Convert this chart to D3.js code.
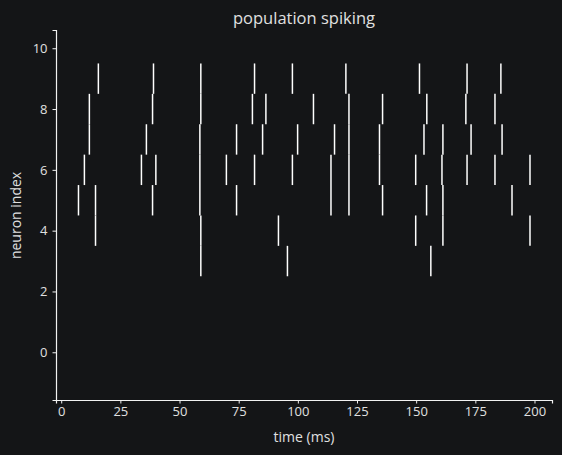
<!DOCTYPE html>
<html>
<head>
<meta charset="utf-8">
<script src="https://cdn.jsdelivr.net/npm/d3@7"></script>
<style>
  html, body { margin: 0; padding: 0; background: #141517; }
  svg { display: block; font-family: "Open Sans", "Noto Sans", sans-serif; }
</style>
</head>
<body>
<div id="chart"></div>
<script>
// spike times (ms) for each neuron, index = neuron number
var neurons = [0, 1, 2, 3, 4, 5, 6, 7, 8, 9];
var spikes0 = [];
var spikes1 = [];
var spikes2 = [];
var spikes3 = [59.0, 95.6, 156.2];
var spikes4 = [14.5, 59.0, 91.8, 149.8, 161.3, 198.1];
var spikes5 = [7.3, 14.5, 38.6, 58.6, 74.1, 114.0, 121.6, 135.8, 154.4, 161.3, 190.5];
var spikes6 = [9.8, 33.9, 40.0, 58.6, 69.8, 81.7, 97.7, 114.0, 121.6, 134.5, 149.8, 160.9, 171.5, 183.3, 198.1];
var spikes7 = [11.9, 36.0, 58.6, 74.1, 85.1, 99.9, 115.5, 121.6, 134.5, 153.3, 161.3, 173.2, 186.3];
var spikes8 = [11.9, 38.6, 59.0, 80.8, 86.5, 106.6, 121.6, 135.8, 154.5, 171.0, 183.3];
var spikes9 = [15.7, 39.0, 59.0, 81.7, 97.7, 120.3, 151.4, 171.5, 185.8];
var spikeTrains = [spikes0, spikes1, spikes2, spikes3, spikes4, spikes5, spikes6, spikes7, spikes8, spikes9];

var xTicks = [0, 25, 50, 75, 100, 125, 150, 175, 200];
var yTicks = [0, 2, 4, 6, 8, 10];
var lineLength = 1;

var width = 562, height = 455;
var margin = { top: 30, right: 10, bottom: 55, left: 56 };
var textColor = '#e0e0e0';
var spineColor = '#f2f2f2';

var svg = d3.select('#chart')
	.append('svg')
	.attr('width', width)
	.attr('height', height);

svg.append('rect')
	.attr('width', width).attr('height', height)
	.attr('fill', '#141517');

var x = d3.scaleLinear()
	.domain([-2.2, 207.4])
	.range([margin.left, width - margin.right]);

var y = d3.scaleLinear()
	.domain([-1.57, 10.6])
	.range([height - margin.bottom, margin.top]);

// flatten into events
var events = [];
spikeTrains.forEach(function(train, i) {
	train.forEach(function(t) { events.push({ neuron: neurons[i], t: t }); });
});

svg.append('g')
	.selectAll('line')
	.data(events)
	.enter()
	.append('line')
	.attr('x1', function(d) { return x(d.t); })
	.attr('x2', function(d) { return x(d.t); })
	.attr('y1', function(d) { return y(d.neuron - lineLength / 2); })
	.attr('y2', function(d) { return y(d.neuron + lineLength / 2); })
	.attr('stroke', '#ffffff')
	.attr('stroke-width', 1.5);

// axes
var xAxis = svg.append('g')
	.attr('transform', 'translate(0,' + (height - margin.bottom) + ')')
	.call(d3.axisBottom(x).tickValues(xTicks).tickSizeOuter(0).tickSize(3.5).tickPadding(3));

var yAxis = svg.append('g')
	.attr('transform', 'translate(' + margin.left + ',0)')
	.call(d3.axisLeft(y).tickValues(yTicks).tickSizeOuter(0).tickSize(3.5).tickPadding(5));

[xAxis, yAxis].forEach(function(ax) {
	ax.select('.domain').attr('stroke', spineColor).attr('stroke-width', 1.2);
	ax.selectAll('.tick line').attr('stroke', spineColor).attr('stroke-width', 1);
	ax.selectAll('.tick text')
		.attr('fill', textColor)
		.style('font-size', '13px')
		.style('font-family', '"Open Sans", "Noto Sans", sans-serif');
});

// labels
svg.append('text')
	.attr('x', (margin.left + width - margin.right) / 2)
	.attr('y', 23.5)
	.attr('text-anchor', 'middle')
	.attr('fill', textColor)
	.style('font-size', '16.5px')
	.text('population spiking');

svg.append('text')
	.attr('x', (margin.left + width - margin.right) / 2)
	.attr('y', 442)
	.attr('text-anchor', 'middle')
	.attr('fill', textColor)
	.style('font-size', '14px')
	.text('time (ms)');

svg.append('text')
	.attr('transform', 'translate(21,' + y(4.5) + ') rotate(-90)')
	.attr('text-anchor', 'middle')
	.attr('fill', textColor)
	.style('font-size', '14px')
	.text('neuron index');
</script>
</body>
</html>
